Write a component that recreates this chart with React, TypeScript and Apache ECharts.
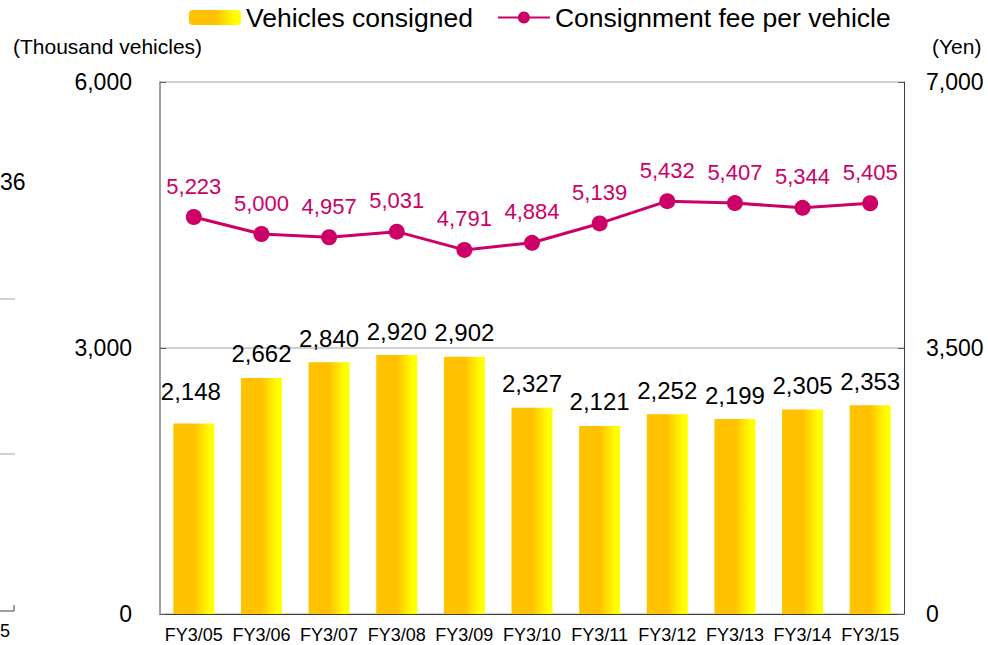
import React, { useEffect, useRef } from "react";
import * as echarts from "echarts";

const categories = ["FY3/05", "FY3/06", "FY3/07", "FY3/08", "FY3/09", "FY3/10", "FY3/11", "FY3/12", "FY3/13", "FY3/14", "FY3/15"];
const vehiclesConsigned = [2148, 2662, 2840, 2920, 2902, 2327, 2121, 2252, 2199, 2305, 2353];
const feePerVehicle = [5223, 5000, 4957, 5031, 4791, 4884, 5139, 5432, 5407, 5344, 5405];
const seriesNames = ["Vehicles consigned", "Consignment fee per vehicle"];
const leftUnit = "(Thousand vehicles)";
const rightUnit = "(Yen)";

const FONT = "'Liberation Sans', Arial, sans-serif";
const fmt = (v: number) => String(v).replace(/\B(?=(\d{3})+(?!\d))/g, ",");

export default function App() {
  const ref = useRef<HTMLDivElement>(null);
  useEffect(() => {
    if (!ref.current) return;
    const chart = echarts.init(ref.current, null, { renderer: "svg" });
    const barColor = new echarts.graphic.LinearGradient(0, 0, 1, 0, [
      { offset: 0, color: "#FFC300" },
      { offset: 0.5, color: "#FFC000" },
      { offset: 0.88, color: "#FFFF00" },
      { offset: 1, color: "#FFFF00" },
    ]);
    chart.setOption({
      animation: false,
      textStyle: { fontFamily: FONT },
      legend: {
        left: 184,
        top: -1,
        itemWidth: 52,
        itemHeight: 15,
        itemGap: 24,
        textStyle: { fontSize: 26.5, color: "#000", fontFamily: FONT },
        data: seriesNames,
      },
      grid: { left: 160, right: 84, top: 82, bottom: 31 },
      xAxis: {
        type: "category",
        data: categories,
        axisLine: { lineStyle: { color: "#404040", width: 1 } },
        axisTick: { inside: true, length: 5, lineStyle: { color: "#404040" } },
        axisLabel: { fontSize: 18, color: "#000", margin: 12, interval: 0, fontFamily: FONT },
      },
      yAxis: [
        {
          type: "value",
          min: 0,
          max: 6000,
          interval: 3000,
          axisLine: { show: true, lineStyle: { color: "#808080", width: 1.5 } },
          axisTick: { show: true, inside: true, length: 6, lineStyle: { color: "#606060" } },
          axisLabel: { fontSize: 23, color: "#000", margin: 28, formatter: (v: number) => fmt(v), fontFamily: FONT },
          splitLine: { show: true, lineStyle: { color: "#c0c0c0", width: 1.5 } },
        },
        {
          type: "value",
          min: 0,
          max: 7000,
          interval: 3500,
          position: "right",
          axisLine: { show: true, lineStyle: { color: "#404040", width: 1 } },
          axisTick: { show: true, inside: true, length: 6, lineStyle: { color: "#606060" } },
          axisLabel: { fontSize: 23, color: "#000", margin: 22, formatter: (v: number) => fmt(v), fontFamily: FONT },
          splitLine: { show: false },
        },
      ],
      series: [
        {
          name: seriesNames[0],
          type: "bar",
          barWidth: 41,
          data: vehiclesConsigned.map((v, i) =>
            i === 0 ? { value: v, label: { distance: 20, offset: [-3, 0] } } : v
          ),
          itemStyle: { color: barColor },
          label: {
            show: true,
            position: "top",
            distance: 12,
            fontSize: 24,
            color: "#000",
            fontFamily: FONT,
            formatter: (p: any) => fmt(p.value),
          },
        },
        {
          name: seriesNames[1],
          type: "line",
          yAxisIndex: 1,
          data: feePerVehicle,
          color: "#CC0066",
          lineStyle: { color: "#CC0066", width: 3 },
          itemStyle: { color: "#CC0066" },
          symbol: "circle",
          symbolSize: 16,
          z: 5,
          label: {
            show: true,
            position: "top",
            distance: 12,
            fontSize: 22,
            color: "#CC0066",
            fontFamily: FONT,
            formatter: (p: any) => fmt(p.value),
          },
        },
      ],
      graphic: [
        { type: "text", left: 13, top: 36, style: { text: leftUnit, fontSize: 21, fill: "#000", fontFamily: FONT } },
        { type: "text", left: 932, top: 36, style: { text: rightUnit, fontSize: 21, fill: "#000", fontFamily: FONT } },
        { type: "text", x: 0, y: 182, style: { text: "36", fontSize: 23, fill: "#000", align: "left", verticalAlign: "middle", fontFamily: FONT } },
        { type: "line", shape: { x1: 0, y1: 299, x2: 15, y2: 299 }, style: { stroke: "#c0c0c0", lineWidth: 1.5 } },
        { type: "line", shape: { x1: 0, y1: 454, x2: 15, y2: 454 }, style: { stroke: "#c0c0c0", lineWidth: 1.5 } },
        { type: "polyline", shape: { points: [[0, 611], [14, 611], [14, 605]] }, style: { stroke: "#404040", lineWidth: 1, fill: null } },
        { type: "text", x: 0, y: 631, style: { text: "5", fontSize: 18, fill: "#000", align: "left", verticalAlign: "middle", fontFamily: FONT } },
      ],
    });
    return () => chart.dispose();
  }, []);
  return <div ref={ref} style={{ position: "fixed", left: 0, top: 0, width: 988, height: 645, background: "#fff" }} />;
}
